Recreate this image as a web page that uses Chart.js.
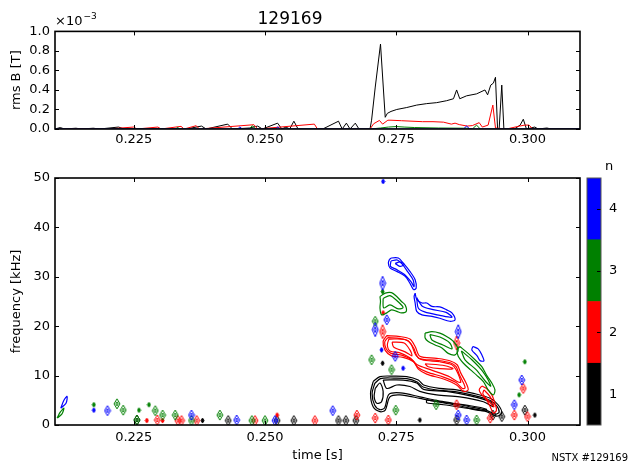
<!DOCTYPE html>
<html>
<head>
<meta charset="utf-8">
<script src="https://cdn.jsdelivr.net/npm/chart.js@4.4.0/dist/chart.umd.min.js"></script>
<style>
  body { margin: 0; background: #fff; }
  #wrap { position: relative; width: 634px; height: 465px; background: #fff; overflow: hidden; }
  #wrap canvas { position: absolute; }
</style>
</head>
<body>
<div id="wrap">
  <canvas id="rmsChart" width="634" height="150" style="left:0;top:0"></canvas>
  <canvas id="specChart" width="634" height="315" style="left:0;top:150px"></canvas>
  <canvas id="modeBar" width="74" height="315" style="left:557px;top:150px"></canvas>
</div>
<script>
const shot = '129169';
const timeTicks = [0.225, 0.25, 0.275, 0.3];
const rmsTicks = [0, 0.2, 0.4, 0.6, 0.8, 1.0];
const freqTicks = [0, 10, 20, 30, 40, 50];
const modeNumbers = [1, 2, 3, 4];
const modeColors = ['#000000', '#ff0000', '#008000', '#0000ff'];

// rms amplitude per toroidal mode number, [time s, B in 1e-3 T]
const rmsN1 = [[0.2100,0.00],[0.2110,0.015],[0.2118,0.00],[0.2140,0.008],[0.2150,0.00],[0.2173,0.008],[0.2185,0.00],[0.2221,0.02],[0.2232,0.00],[0.2300,0.004],[0.2350,0.00],[0.2379,0.03],[0.2388,0.00],[0.2429,0.05],[0.2438,0.00],[0.2470,0.01],[0.2486,0.03],[0.2495,0.00],[0.2524,0.06],[0.2532,0.00],[0.2540,0.02],[0.2547,0.00],[0.2555,0.08],[0.2563,0.00],[0.2610,0.00],[0.2640,0.08],[0.2647,0.00],[0.2655,0.06],[0.2662,0.00],[0.2672,0.06],[0.2679,0.00],[0.2700,0.00],[0.2703,0.09],[0.2710,0.43],[0.2720,0.87],[0.2729,0.12],[0.2733,0.16],[0.2740,0.18],[0.2751,0.20],[0.2770,0.22],[0.2789,0.245],[0.2808,0.26],[0.2827,0.27],[0.2846,0.29],[0.2859,0.31],[0.2865,0.40],[0.2871,0.31],[0.2884,0.34],[0.2903,0.36],[0.2919,0.40],[0.2924,0.35],[0.2930,0.45],[0.2935,0.47],[0.2939,0.53],[0.2943,0.00],[0.2946,0.00],[0.2951,0.45],[0.2955,0.00],[0.2975,0.00],[0.2986,0.04],[0.2992,0.10],[0.2998,0.00],[0.3014,0.02],[0.3020,0.00],[0.3037,0.01],[0.3045,0.00],[0.3100,0.00]];
const rmsN2 = [[0.2100,0.00],[0.2140,0.005],[0.2200,0.00],[0.2250,0.02],[0.2256,0.00],[0.2296,0.02],[0.2302,0.00],[0.2340,0.027],[0.2346,0.00],[0.2369,0.034],[0.2375,0.00],[0.2479,0.044],[0.2486,0.00],[0.2594,0.05],[0.2600,0.00],[0.2700,0.00],[0.2707,0.054],[0.2718,0.088],[0.2724,0.05],[0.2734,0.09],[0.2740,0.09],[0.2760,0.085],[0.2780,0.08],[0.2800,0.075],[0.2820,0.075],[0.2840,0.07],[0.2855,0.05],[0.2862,0.06],[0.2870,0.045],[0.2885,0.03],[0.2895,0.035],[0.2908,0.065],[0.2914,0.02],[0.2925,0.04],[0.2934,0.245],[0.2939,0.01],[0.2960,0.00],[0.2985,0.03],[0.2995,0.04],[0.3003,0.04],[0.3010,0.00],[0.3100,0.00]];
const rmsN3 = [[0.2100,0.00],[0.2330,0.00],[0.2333,0.017],[0.2338,0.00],[0.2470,0.00],[0.2476,0.034],[0.2482,0.00],[0.2700,0.00],[0.2720,0.01],[0.2735,0.02],[0.2750,0.025],[0.2765,0.02],[0.2785,0.015],[0.2830,0.01],[0.2885,0.008],[0.2895,0.00],[0.2903,0.04],[0.2910,0.00],[0.3100,0.00]];
const rmsN4 = [[0.2100,0.00],[0.2448,0.00],[0.2452,0.02],[0.2457,0.00],[0.2520,0.00],[0.2524,0.02],[0.2529,0.00],[0.2878,0.00],[0.2884,0.03],[0.2890,0.00],[0.3100,0.00]];

// spectrogram contours per mode, closed loops of [time s, freq kHz]
const loopsN1 = [
  [[0.2706,8.8],[0.2719,9.8],[0.2744,9.9],[0.2770,9.8],[0.2792,9.1],[0.2802,8.1],[0.2833,7.4],[0.2865,7.1],[0.2897,6.4],[0.2929,5.4],[0.2944,4.1],[0.2951,2.4],[0.2941,1.8],[0.2922,2.7],[0.2891,3.4],[0.2859,4.1],[0.2827,4.7],[0.2795,5.4],[0.2757,6.1],[0.2738,5.7],[0.2729,3.0],[0.2719,2.7],[0.2706,3.7],[0.2701,6.4]],
  [[0.2709,8.4],[0.2720,9.4],[0.2745,9.5],[0.2770,9.4],[0.2790,8.7],[0.2801,7.7],[0.2833,7.0],[0.2865,6.7],[0.2897,6.0],[0.2928,5.0],[0.2941,3.9],[0.2946,2.6],[0.2939,2.2],[0.2921,3.0],[0.2890,3.7],[0.2858,4.4],[0.2826,5.0],[0.2795,5.7],[0.2758,6.5],[0.2736,6.2],[0.2728,3.5],[0.2719,3.1],[0.2709,4.0],[0.2704,6.4]],
  [[0.2725,9.1],[0.2763,9.1],[0.2789,8.5],[0.2802,7.2],[0.2846,6.8],[0.2891,5.9],[0.2929,4.7],[0.2935,3.7],[0.2916,4.7],[0.2871,5.7],[0.2827,6.1],[0.2795,6.8],[0.2776,7.8],[0.2751,8.1],[0.2732,7.4]],
  [[0.2808,5.1],[0.2846,4.5],[0.2891,3.9],[0.2922,3.2],[0.2916,2.9],[0.2884,3.4],[0.2840,4.1],[0.2808,4.5]],
  [[0.2710,7.4],[0.2719,8.5],[0.2725,6.8],[0.2722,4.7],[0.2713,4.4],[0.2708,5.7]]
];
const loopsN2 = [
  [[0.2732,18.1],[0.2757,17.9],[0.2776,17.4],[0.2786,15.9],[0.2795,13.9],[0.2827,13.5],[0.2852,13.0],[0.2866,12.2],[0.2873,10.5],[0.2883,8.5],[0.2887,7.1],[0.2878,6.8],[0.2865,8.1],[0.2840,9.3],[0.2808,10.3],[0.2792,11.3],[0.2783,12.8],[0.2763,13.7],[0.2741,14.0],[0.2729,15.1],[0.2725,16.9]],
  [[0.2734,17.7],[0.2758,17.5],[0.2773,17.0],[0.2783,15.6],[0.2793,13.5],[0.2828,13.1],[0.2853,12.6],[0.2864,11.8],[0.2870,10.2],[0.2879,8.3],[0.2881,7.5],[0.2876,7.4],[0.2864,8.6],[0.2840,9.7],[0.2809,10.7],[0.2791,11.7],[0.2781,13.1],[0.2762,14.1],[0.2740,14.5],[0.2731,15.4],[0.2728,16.8]],
  [[0.2736,17.4],[0.2767,17.3],[0.2778,16.4],[0.2787,14.2],[0.2799,13.2],[0.2833,12.8],[0.2856,12.2],[0.2864,11.2],[0.2873,8.7],[0.2868,8.7],[0.2849,9.9],[0.2815,11.2],[0.2790,12.2],[0.2776,13.6],[0.2757,14.6],[0.2738,15.0],[0.2733,16.2]],
  [[0.2742,16.8],[0.2765,16.6],[0.2776,15.2],[0.2780,14.0],[0.2767,14.8],[0.2745,15.8]],
  [[0.2805,12.4],[0.2843,12.0],[0.2858,11.4],[0.2833,11.4],[0.2811,11.8]],
  [[0.2913,7.9],[0.2922,7.4],[0.2932,6.1],[0.2938,4.4],[0.2941,3.0],[0.2935,2.4],[0.2929,3.7],[0.2922,5.1],[0.2913,6.1],[0.2908,7.1]],
  [[0.2917,7.1],[0.2929,5.7],[0.2936,3.7],[0.2926,4.9],[0.2915,6.3]]
];
const loopsN3 = [
  [[0.2719,26.0],[0.2729,26.7],[0.2741,26.8],[0.2751,26.0],[0.2760,25.0],[0.2767,24.3],[0.2769,23.0],[0.2760,22.7],[0.2751,23.0],[0.2741,23.3],[0.2732,22.7],[0.2722,22.3],[0.2719,23.7],[0.2720,25.0]],
  [[0.2725,25.6],[0.2738,26.2],[0.2753,25.0],[0.2763,23.8],[0.2754,23.5],[0.2738,24.3],[0.2726,23.7]],
  [[0.2805,18.6],[0.2818,18.9],[0.2833,18.6],[0.2846,17.9],[0.2859,16.9],[0.2868,15.2],[0.2862,14.2],[0.2849,14.5],[0.2837,15.6],[0.2824,16.2],[0.2811,16.9],[0.2805,17.6]],
  [[0.2814,18.3],[0.2833,17.8],[0.2852,16.6],[0.2856,15.4],[0.2839,16.2],[0.2818,17.2]],
  [[0.2871,15.9],[0.2887,14.5],[0.2900,13.2],[0.2913,11.8],[0.2922,10.1],[0.2932,8.5],[0.2938,7.1],[0.2935,6.1],[0.2925,7.1],[0.2916,8.8],[0.2903,10.1],[0.2891,11.2],[0.2878,12.5],[0.2868,13.9],[0.2866,15.2]],
  [[0.2874,15.0],[0.2894,13.2],[0.2915,10.8],[0.2930,7.9],[0.2921,8.7],[0.2902,11.2],[0.2881,13.2]],
  [[0.2104,1.4],[0.2110,2.6],[0.2117,3.4],[0.2113,2.2]]
];
const loopsN4 = [
  [[0.2737,33.5],[0.2741,33.8],[0.2754,33.8],[0.2763,32.8],[0.2776,31.1],[0.2786,29.4],[0.2788,27.7],[0.2783,27.4],[0.2776,28.7],[0.2767,30.1],[0.2751,31.1],[0.2738,31.8],[0.2735,32.8]],
  [[0.2740,33.2],[0.2752,33.4],[0.2761,32.6],[0.2772,31.0],[0.2782,29.4],[0.2784,28.0],[0.2778,29.0],[0.2765,30.5],[0.2750,31.5],[0.2739,32.1]],
  [[0.2748,32.7],[0.2757,33.0],[0.2765,32.5],[0.2757,32.1]],
  [[0.2786,26.7],[0.2789,25.4],[0.2799,24.7],[0.2808,24.7],[0.2818,24.0],[0.2833,23.9],[0.2846,23.3],[0.2856,22.7],[0.2862,21.3],[0.2852,21.0],[0.2833,21.6],[0.2818,22.0],[0.2799,22.3],[0.2789,23.0],[0.2786,24.7],[0.2784,26.0]],
  [[0.2789,25.8],[0.2799,24.1],[0.2818,23.4],[0.2845,22.8],[0.2856,21.8],[0.2833,22.2],[0.2804,22.9],[0.2792,23.7]],
  [[0.2896,15.9],[0.2906,15.4],[0.2913,14.2],[0.2917,13.0],[0.2910,13.0],[0.2904,14.0],[0.2894,15.2]],
  [[0.2111,3.4],[0.2117,5.0],[0.2123,5.8],[0.2121,4.4]]
];

// isolated contour islands [time s, freq kHz]
const spotsN1 = [[0.2256,1.0],[0.2430,0.9],[0.2523,0.9],[0.2555,0.9],[0.2640,0.9],[0.2654,0.9],[0.2673,0.9],[0.2865,1.0],[0.2934,2.0],[0.2951,1.7],[0.2995,3.0]];
const dotsN1 = [[0.2381,0.9],[0.2795,1.0],[0.2724,12.5],[0.3014,2.0]];
const tallN1 = [];
const spotsN2 = [[0.2295,1.0],[0.2334,0.9],[0.2341,0.9],[0.2370,0.9],[0.2481,0.9],[0.2595,0.9],[0.2675,2.0],[0.2710,1.4],[0.2735,1.0],[0.2929,1.4],[0.2975,2.0],[0.3000,1.7],[0.2865,4.1],[0.2992,7.4]];
const dotsN2 = [[0.2275,0.9],[0.2305,0.9],[0.2523,2.0],[0.2725,22.7]];
const tallN2 = [[0.2865,16.6],[0.2724,18.9]];
const spotsN3 = [[0.2256,1.0],[0.2218,4.3],[0.2230,3.0],[0.2291,2.9],[0.2305,2.0],[0.2329,2.0],[0.2360,0.9],[0.2414,2.0],[0.2475,0.9],[0.2500,0.9],[0.2749,3.0],[0.2826,4.1],[0.2903,1.0],[0.2741,11.2],[0.2703,13.2],[0.2710,21.0]];
const dotsN3 = [[0.2174,4.1],[0.2260,3.0],[0.2279,4.1],[0.2984,6.1],[0.2724,27.0],[0.2995,12.8]];
const tallN3 = [];
const spotsN4 = [[0.2200,2.9],[0.2360,2.0],[0.2446,1.0],[0.2519,0.9],[0.2629,2.9],[0.2868,2.0],[0.2884,1.0],[0.2975,4.1],[0.2989,9.1],[0.2732,21.3],[0.2748,13.9]];
const dotsN4 = [[0.2174,3.0],[0.2722,15.2],[0.2763,11.5],[0.2725,49.3]];
const tallN4 = [[0.2724,28.7],[0.2710,19.3],[0.2868,18.9]];

const modes = [
  { n: 1, color: modeColors[0], rms: rmsN1, loops: loopsN1, spots: spotsN1, dots: dotsN1, tall: tallN1 },
  { n: 2, color: modeColors[1], rms: rmsN2, loops: loopsN2, spots: spotsN2, dots: dotsN2, tall: tallN2 },
  { n: 3, color: modeColors[2], rms: rmsN3, loops: loopsN3, spots: spotsN3, dots: dotsN3, tall: tallN3 },
  { n: 4, color: modeColors[3], rms: rmsN4, loops: loopsN4, spots: spotsN4, dots: dotsN4, tall: tallN4 }
];

Chart.defaults.font.family = '"DejaVu Sans", sans-serif';
Chart.defaults.font.size = 13;
Chart.defaults.color = '#000';

const toXY = pts => pts.map(([x, y]) => ({ x, y }));
const closeLoop = pts => toXY(pts.concat([pts[0]]));

// small nested diamond, used as point marker for contour islands
function diamond(color, w, h, solid) {
  const c = document.createElement('canvas');
  c.width = w + 2;
  c.height = h + 2;
  const g = c.getContext('2d');
  const cx = c.width / 2, cy = c.height / 2;
  g.strokeStyle = color;
  g.fillStyle = color;
  g.lineWidth = 1;
  const path = (sx, sy) => {
    g.beginPath();
    g.moveTo(cx, cy - sy);
    g.lineTo(cx + sx, cy);
    g.lineTo(cx, cy + sy);
    g.lineTo(cx - sx, cy);
    g.closePath();
  };
  path(w / 2, h / 2);
  g.stroke();
  if (solid) g.fill();
  else { path(w / 5, h / 5); g.stroke(); }
  return c;
}

// axes box with inward ticks, matplotlib style
const framePlugin = {
  id: 'frame',
  afterDraw(chart, args, opts) {
    const { ctx, chartArea: a } = chart;
    const len = 4;
    ctx.save();
    ctx.strokeStyle = '#000';
    ctx.lineWidth = 1;
    ctx.beginPath();
    Object.values(chart.scales).forEach(s => {
      if (!s.options.display) return;
      s.ticks.forEach(t => {
        const p = Math.round(s.getPixelForValue(t.value)) + 0.5;
        if (s.isHorizontal()) {
          ctx.moveTo(p, a.top); ctx.lineTo(p, a.top + len);
          ctx.moveTo(p, a.bottom); ctx.lineTo(p, a.bottom - len);
        } else {
          if (opts.leftTicks !== false) { ctx.moveTo(a.left, p); ctx.lineTo(a.left + len, p); }
          ctx.moveTo(a.right, p); ctx.lineTo(a.right - len, p);
        }
      });
    });
    ctx.stroke();
    ctx.strokeStyle = opts.color || '#000';
    ctx.lineWidth = opts.width || 1.6;
    ctx.strokeRect(a.left, a.top, a.right - a.left, a.bottom - a.top);
    ctx.restore();
  }
};

// free text: offset exponent and shot tag
const notePlugin = {
  id: 'note',
  afterDraw(chart, args, opts) {
    const ctx = chart.ctx;
    ctx.save();
    ctx.fillStyle = '#000';
    ctx.textBaseline = 'alphabetic';
    (opts.items || []).forEach(it => {
      ctx.font = it.size + 'px "DejaVu Sans"';
      ctx.textAlign = it.align || 'left';
      ctx.fillText(it.text, it.x, it.y);
      if (it.sup) {
        const w = ctx.measureText(it.text).width;
        ctx.font = Math.round(it.size * 0.7) + 'px "DejaVu Sans"';
        ctx.fillText(it.sup, it.x + w + 1, it.y - it.size * 0.45);
      }
    });
    ctx.restore();
  }
};

const timeAxis = (height, extra) => Object.assign({
  type: 'linear',
  min: 0.21,
  max: 0.31,
  grid: { display: false, drawTicks: false },
  border: { display: false },
  afterBuildTicks: s => { s.ticks = timeTicks.map(v => ({ value: v })); },
  afterFit: s => { s.height = height; },
  ticks: { padding: 3, maxRotation: 0, callback: v => v.toFixed(3) }
}, extra);

// top panel: rms amplitude vs time
const rmsSets = modes.slice().reverse().map(m => ({
  data: toXY(m.rms),
  showLine: true,
  borderColor: m.color,
  borderWidth: 1,
  pointRadius: 0,
  tension: 0
}));

new Chart(document.getElementById('rmsChart'), {
  type: 'scatter',
  data: { datasets: rmsSets },
  options: {
    responsive: false,
    animation: false,
    events: [],
    layout: { padding: { left: 0, right: 54, top: 0, bottom: 0 } },
    plugins: {
      legend: { display: false },
      tooltip: { enabled: false },
      title: { display: true, text: shot, font: { size: 17, weight: 'normal' }, color: '#000', padding: { top: 9, bottom: 2 } },
      note: { items: [{ text: '\u00d710', sup: '\u22123', x: 55, y: 25, size: 13 }] }
    },
    scales: {
      x: timeAxis(21),
      y: {
        min: 0,
        max: 1,
        grid: { display: false, drawTicks: false },
        border: { display: false },
        afterBuildTicks: s => { s.ticks = rmsTicks.map(v => ({ value: v })); },
        afterFit: s => { s.width = 55; },
        ticks: { padding: 5, callback: v => v.toFixed(1) },
        title: { display: true, text: 'rms B [T]', font: { size: 13 }, padding: { top: 9 } }
      }
    }
  },
  plugins: [framePlugin, notePlugin]
});

// bottom panel: mode-resolved spectrogram contours
const specSets = [];
modes.slice().reverse().forEach(m => {
  m.loops.forEach(loop => specSets.push({
    data: closeLoop(loop),
    showLine: true,
    borderColor: m.color,
    borderWidth: 1.2,
    pointRadius: 0,
    tension: 0.3
  }));
  [['spots', diamond(m.color, 6, 10)], ['dots', diamond(m.color, 3, 5, true)], ['tall', diamond(m.color, 6, 14)]]
    .forEach(([key, marker]) => {
      if (!m[key].length) return;
      specSets.push({ data: toXY(m[key]), showLine: false, pointStyle: marker, pointRadius: 5 });
    });
});

new Chart(document.getElementById('specChart'), {
  type: 'scatter',
  data: { datasets: specSets },
  options: {
    responsive: false,
    animation: false,
    events: [],
    layout: { padding: { left: 0, right: 54, top: 28, bottom: 0 } },
    plugins: {
      legend: { display: false },
      tooltip: { enabled: false },
      note: { items: [{ text: 'NSTX #' + shot, x: 628, y: 311, size: 10, align: 'right' }] }
    },
    scales: {
      x: timeAxis(40, {
        ticks: { padding: 5, maxRotation: 0, callback: v => v.toFixed(3) },
        title: { display: true, text: 'time [s]', font: { size: 13 }, padding: { bottom: 2 } }
      }),
      y: {
        min: 0,
        max: 50,
        grid: { display: false, drawTicks: false },
        border: { display: false },
        afterBuildTicks: s => { s.ticks = freqTicks.map(v => ({ value: v })); },
        afterFit: s => { s.width = 55; },
        ticks: { padding: 5 },
        title: { display: true, text: 'frequency [kHz]', font: { size: 13 }, padding: { top: 9 } }
      }
    }
  },
  plugins: [framePlugin, notePlugin]
});

// colour bar for mode number n
new Chart(document.getElementById('modeBar'), {
  type: 'bar',
  data: {
    labels: ['n'],
    datasets: modeNumbers.map((n, i) => ({
      data: [[n - 0.5, n + 0.5]],
      backgroundColor: modeColors[i],
      borderWidth: 0,
      grouped: false,
      barPercentage: 1,
      categoryPercentage: 1
    }))
  },
  options: {
    responsive: false,
    animation: false,
    events: [],
    layout: { padding: { left: 30, right: 0, top: 0, bottom: 40 } },
    plugins: {
      legend: { display: false },
      tooltip: { enabled: false },
      title: { display: true, text: 'n', font: { size: 13, weight: 'normal' }, color: '#000', padding: { top: 9, bottom: 3.4 } },
      frame: { leftTicks: false, color: '#555', width: 1 }
    },
    scales: {
      x: { display: false },
      y: {
        position: 'right',
        min: 0.5,
        max: 4.5,
        grid: { display: false, drawTicks: false },
        border: { display: false },
        afterBuildTicks: s => { s.ticks = modeNumbers.map(v => ({ value: v })); },
        afterFit: s => { s.width = 30; },
        ticks: { padding: 8 }
      }
    }
  },
  plugins: [framePlugin]
});
</script>
</body>
</html>
